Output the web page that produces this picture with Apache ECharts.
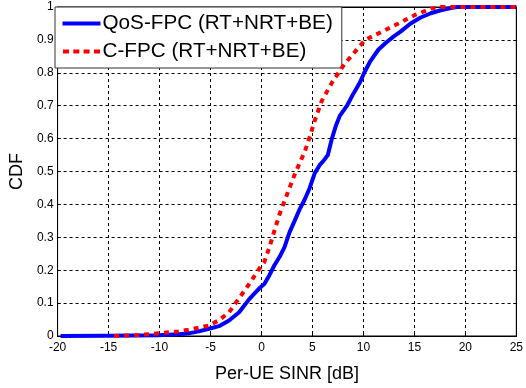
<!DOCTYPE html>
<html><head><meta charset="utf-8">
<script src="https://cdn.jsdelivr.net/npm/echarts@6/dist/echarts.min.js"></script>
<style>html,body{margin:0;padding:0;background:#fff}#c{width:526px;height:388px}</style>
</head><body><div id="c"></div>
<script>
const xTicks = [-20,-15,-10,-5,0,5,10,15,20,25];
const seriesNames = ['QoS-FPC (RT+NRT+BE)', 'C-FPC (RT+NRT+BE)'];
const qosX = [-19.7,-15.05,-10.11,-8.13,-7.14,-6.15,-5.16,-4.17,-3.18,-2.19,-1.2,-0.21,0.28,0.78,1.27,1.77,2.26,2.75,3.25,3.74,4.24,4.73,5.23,5.72,6.02,6.51,6.91,7.31,7.7,8.39,8.99,9.68,10.08,10.67,11.46,12.15,12.95,13.64,14.63,15.62,16.61,17.59,18.58,19.18,25];
const qosY = [0,0.001,0.002,0.005,0.008,0.014,0.022,0.03,0.047,0.072,0.112,0.145,0.158,0.185,0.215,0.24,0.27,0.315,0.35,0.385,0.415,0.45,0.495,0.52,0.53,0.55,0.60,0.64,0.67,0.70,0.735,0.772,0.80,0.835,0.87,0.89,0.91,0.925,0.95,0.968,0.981,0.99,0.997,1,1];
const cfpcX = [-14.46,-12.09,-10.11,-8.13,-7.14,-6.15,-5.16,-4.17,-3.18,-2.19,-1.2,-0.21,0.28,0.78,1.27,1.77,2.26,2.75,3.25,3.74,4.24,4.73,5.23,5.92,6.91,8.1,9.48,10.17,12.15,13.44,15.02,16.61,17.59,25];
const cfpcY = [0,0.003,0.008,0.014,0.019,0.025,0.032,0.048,0.072,0.115,0.158,0.205,0.225,0.27,0.32,0.37,0.41,0.45,0.49,0.525,0.56,0.605,0.655,0.715,0.77,0.825,0.875,0.90,0.93,0.95,0.975,0.995,1,1];

const font = 'Liberation Sans, Arial, sans-serif';
const chart = echarts.init(document.getElementById('c'), null, {renderer:'canvas'});
const split = {show:true, lineStyle:{color:'#000', type:[3,3], width:1}};
const tick = {show:true, inside:true, length:3, lineStyle:{color:'#000'}};
chart.setOption({
  animation:false,
  backgroundColor:'#fff',
  grid:{left:55, right:7, top:7, bottom:49, show:true, borderColor:'#000', borderWidth:1, backgroundColor:'transparent'},
  xAxis:[{type:'value', min:xTicks[0], max:xTicks[xTicks.length-1], interval:5,
    name:'Per-UE SINR [dB]', nameLocation:'middle', nameGap:29,
    nameTextStyle:{fontFamily:font, fontSize:18, color:'#000'},
    axisLine:{show:true, onZero:false, lineStyle:{color:'#000'}}, axisTick:tick,
    axisLabel:{fontFamily:font, fontSize:12, color:'#000', margin:6},
    splitLine:split},
    {type:'value', position:'top', min:xTicks[0], max:xTicks[xTicks.length-1], interval:5,
    axisLine:{show:true, onZero:false, lineStyle:{color:'#000'}}, axisTick:tick,
    axisLabel:{show:false}, splitLine:{show:false}}],
  yAxis:[{type:'value', min:0, max:1, interval:0.1,
    name:'CDF', nameLocation:'middle', nameGap:31,
    nameTextStyle:{fontFamily:font, fontSize:18, color:'#000'},
    axisLine:{show:true, onZero:false, lineStyle:{color:'#000'}}, axisTick:tick,
    axisLabel:{fontFamily:font, fontSize:12, color:'#000', margin:4,
      formatter:v=> (v===0?'0':(v===1?'1':v.toFixed(1)))},
    splitLine:split},
    {type:'value', position:'right', min:0, max:1, interval:0.1,
    axisLine:{show:true, onZero:false, lineStyle:{color:'#000'}}, axisTick:tick,
    axisLabel:{show:false}, splitLine:{show:false}}],
  legend:{orient:'vertical', left:55, top:7, itemWidth:38, itemHeight:4, itemGap:7,
    padding:[6,9,6,7.5], backgroundColor:'#fff', borderColor:'#333', borderWidth:1, borderRadius:0,
    textStyle:{fontFamily:font, fontSize:20.7, color:'#000', padding:[0,0,0,-3]},
    data:[
      {name:seriesNames[0], icon:'rect'},
      {name:seriesNames[1], icon:'path://M0,0h6v4h-6zM10.3,0h6v4h-6zM20.6,0h6v4h-6zM31,0h6v4h-6z'}
    ]},
  series:[
    {name:seriesNames[0], type:'line', showSymbol:false, symbol:'none',
      data:qosX.map((x,i)=>[x,qosY[i]]),
      lineStyle:{color:'#0000ff', width:4}, itemStyle:{color:'#0000ff'}, z:3},
    {name:seriesNames[1], type:'line', showSymbol:false, symbol:'none',
      data:cfpcX.map((x,i)=>[x,cfpcY[i]]),
      lineStyle:{color:'#ff0000', width:4, type:[5,5], cap:'butt'}, itemStyle:{color:'#ff0000'}, z:4}
  ]
});
</script></body></html>
